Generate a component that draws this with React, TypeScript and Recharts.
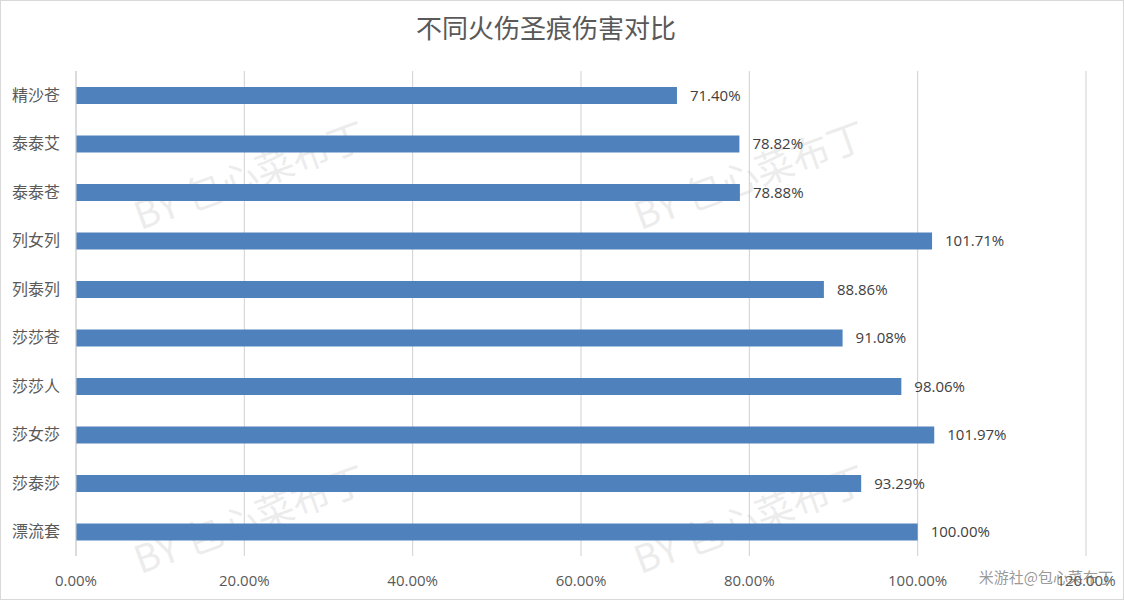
import { BarChart, Bar, XAxis, YAxis, CartesianGrid, LabelList } from "recharts";

const categories = [
  "精沙苍",
  "泰泰艾",
  "泰泰苍",
  "列女列",
  "列泰列",
  "莎莎苍",
  "莎莎人",
  "莎女莎",
  "莎泰莎",
  "漂流套",
];
const damageRatio = [0.714, 0.7882, 0.7888, 1.0171, 0.8886, 0.9108, 0.9806, 1.0197, 0.9329, 1.0];
const xTicks = [0, 0.2, 0.4, 0.6, 0.8, 1.0, 1.2];

const TITLE = "不同火伤圣痕伤害对比";
const WATERMARK = "BY 包心菜布丁";
const SOURCE = "米游社@包心菜布丁";

const data = categories.map((name, i) => ({ name, value: damageRatio[i] }));

const pct = (v: number) => `${(v * 100).toFixed(2)}%`;
const latin = "'Open Sans', sans-serif";
const cjk = "'Noto Sans CJK SC', sans-serif";

// watermark centres, in pixels of the 1124x600 frame
const marks = [
  [250, 178],
  [750, 178],
  [250, 522],
  [750, 522],
];

export default function App() {
  return (
    <div
      style={{
        position: "absolute",
        left: 0,
        top: 0,
        width: 1124,
        height: 600,
        background: "#fff",
        boxSizing: "border-box",
        border: "1px solid #d9d9d9",
      }}
    >
      <BarChart
        width={1122}
        height={598}
        data={data}
        layout="vertical"
        margin={{ top: 70, right: 37, bottom: 0, left: 0 }}
        barCategoryGap={0}
      >
        <text x={545} y={37} textAnchor="middle" fontFamily={cjk} fontSize={26} fill="#595959">
          {TITLE}
        </text>
        <CartesianGrid horizontal={false} stroke="#d0d0d0" />
        <XAxis
          type="number"
          domain={[0, 1.2]}
          ticks={xTicks}
          tickFormatter={pct}
          axisLine={false}
          tickLine={false}
          height={43}
          tickMargin={13}
          tick={{ fill: "#595959", fontSize: 15, fontFamily: latin }}
        />
        <YAxis
          type="category"
          dataKey="name"
          width={75}
          axisLine={{ stroke: "#d0d0d0" }}
          tickLine={false}
          tickMargin={10}
          tick={{ fill: "#595959", fontSize: 16, fontFamily: cjk }}
        />
        <Bar dataKey="value" fill="#4f81bd" barSize={17} isAnimationActive={false}>
          <LabelList
            dataKey="value"
            position="right"
            offset={13}
            formatter={(v: number) => pct(v)}
            style={{ fill: "#404040", fontSize: 15, fontFamily: latin }}
          />
        </Bar>
        {marks.map(([x, y], i) => (
          <text
            key={i}
            x={x}
            y={y}
            textAnchor="middle"
            dominantBaseline="middle"
            transform={`rotate(-20 ${x} ${y})`}
            fontFamily={cjk}
            fontSize={38}
            fill="#c8c8c8"
            fillOpacity={0.35}
          >
            {WATERMARK}
          </text>
        ))}
        <text x={1112} y={582} textAnchor="end" fontFamily={cjk} fontSize={15} fill="#8c8c8c" fillOpacity={0.9}>
          {SOURCE}
        </text>
      </BarChart>
    </div>
  );
}
